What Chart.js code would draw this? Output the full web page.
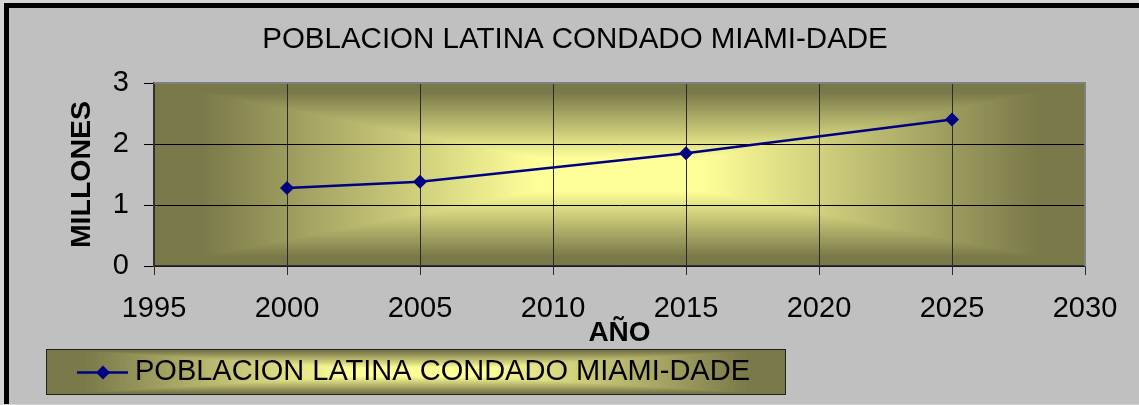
<!DOCTYPE html>
<html><head><meta charset="utf-8">
<script src="https://cdn.jsdelivr.net/npm/chart.js@4.4.1/dist/chart.umd.min.js"></script>
<style>html,body{margin:0;padding:0;background:#c0c0c0;overflow:hidden}#wrap{width:1139px;height:405px;position:relative}</style>
</head><body><div id="wrap"><canvas id="c" width="1139" height="405"></canvas></div>
<script>
const years = [2000, 2005, 2015, 2025];
const poblacion = [1.28, 1.38, 1.85, 2.40];
const xTicks = [1995, 2000, 2005, 2010, 2015, 2020, 2025, 2030];
const yTicks = [0, 1, 2, 3];
const chartTitle = 'POBLACION LATINA CONDADO MIAMI-DADE';
const seriesLabel = 'POBLACION LATINA CONDADO MIAMI-DADE';
const xTitle = 'AÑO';
const yTitle = 'MILLONES';

const FONT = "'Liberation Sans', Arial, sans-serif";
const NAVY = '#000080';
const C_CENTER = [255, 255, 153];
const C_EDGE = [122, 121, 74];

function shape(t) {
  const u = (t - 0.18) / 0.72;
  return Math.max(0, Math.min(1, u));
}
function fromCenterRect(ctx, x0, y0, x1, y1, steps) {
  const cx = (x0 + x1) / 2, cy = (y0 + y1) / 2, hw = (x1 - x0) / 2, hh = (y1 - y0) / 2;
  for (let i = steps; i >= 1; i--) {
    const t = i / steps;
    const f = shape(t);
    const c = C_CENTER.map((v, k) => Math.round(v + (C_EDGE[k] - v) * f));
    ctx.fillStyle = `rgb(${c[0]},${c[1]},${c[2]})`;
    ctx.fillRect(cx - hw * t, cy - hh * t, 2 * hw * t, 2 * hh * t);
  }
}

const decor = {
  id: 'decor',
  beforeDraw(chart) {
    const ctx = chart.ctx;
    const W = chart.width, H = chart.height;
    ctx.save();
    ctx.fillStyle = '#c0c0c0';
    ctx.fillRect(0, 0, W, H);
    ctx.fillStyle = '#d4d4d4';
    ctx.fillRect(0, 0, W, 3);
    ctx.fillRect(0, 0, 4, H);
    ctx.fillRect(0, H - 1, W, 1);
    ctx.fillStyle = '#000';
    ctx.fillRect(4, 3, W - 4, 5);
    ctx.fillRect(4, 3, 5, H - 4);
    const a = chart.chartArea;
    fromCenterRect(ctx, a.left, a.top, a.right, a.bottom, 200);
    ctx.restore();
  },
  beforeDatasetsDraw(chart) {
    const ctx = chart.ctx, a = chart.chartArea;
    ctx.save();
    ctx.strokeStyle = '#808080';
    ctx.lineWidth = 2;
    ctx.beginPath();
    ctx.moveTo(a.left, a.top);
    ctx.lineTo(a.right, a.top);
    ctx.lineTo(a.right, a.bottom);
    ctx.stroke();
    ctx.restore();
  },
  afterDraw(chart) {
    const ctx = chart.ctx;
    const ds = chart.data.datasets[0];
    const bx0 = 46, by0 = 349, bx1 = 786, by1 = 395;
    ctx.save();
    fromCenterRect(ctx, bx0, by0, bx1, by1, 120);
    ctx.strokeStyle = '#222';
    ctx.lineWidth = 1;
    ctx.strokeRect(bx0 + 0.5, by0 + 0.5, bx1 - bx0 - 1, by1 - by0 - 1);
    const ly = 372.5;
    ctx.strokeStyle = ds.borderColor;
    ctx.lineWidth = ds.borderWidth;
    ctx.beginPath();
    ctx.moveTo(77, ly);
    ctx.lineTo(128, ly);
    ctx.stroke();
    ctx.fillStyle = ds.pointBackgroundColor;
    const r = 7;
    ctx.beginPath();
    ctx.moveTo(103 - r, ly); ctx.lineTo(103, ly - r); ctx.lineTo(103 + r, ly); ctx.lineTo(103, ly + r);
    ctx.closePath();
    ctx.fill();
    ctx.fillStyle = '#000';
    ctx.font = '29px ' + FONT;
    ctx.textBaseline = 'middle';
    ctx.textAlign = 'left';
    ctx.fillText(ds.label, 135, 372);
    ctx.restore();
  }
};

Chart.defaults.color = '#000';
Chart.defaults.font.family = FONT;

new Chart(document.getElementById('c'), {
  type: 'line',
  data: {
    datasets: [{
      label: seriesLabel,
      data: years.map((y, i) => ({ x: y, y: poblacion[i] })),
      borderColor: NAVY,
      backgroundColor: NAVY,
      pointBackgroundColor: NAVY,
      pointBorderColor: NAVY,
      borderWidth: 2.5,
      pointStyle: 'rectRot',
      pointRadius: 7,
      pointBorderWidth: 0,
      tension: 0,
      fill: false
    }]
  },
  options: {
    responsive: false,
    animation: false,
    devicePixelRatio: 1,
    layout: { padding: { left: 65, right: 54, top: 0, bottom: 55 } },
    plugins: {
      legend: { display: false },
      tooltip: { enabled: false },
      title: {
        display: true,
        text: chartTitle,
        font: { family: FONT, size: 29.5, weight: 'normal' },
        color: '#000',
        padding: { top: 22, bottom: 25.6 }
      }
    },
    scales: {
      x: {
        type: 'linear',
        min: xTicks[0],
        max: xTicks[xTicks.length - 1],
        afterBuildTicks: s => { s.ticks = xTicks.map(v => ({ value: v })); },
        afterFit: s => { s.height = 84; },
        ticks: { font: { size: 29 }, color: '#000', padding: 17, maxRotation: 0, autoSkip: false, callback: v => String(v) },
        grid: { color: '#2a2a2a', lineWidth: 1, tickLength: 9, drawTicks: true },
        border: { display: true, color: '#333', width: 1.5 },
        title: { display: true, text: xTitle, font: { size: 28, weight: 'bold' }, color: '#000', padding: 0 }
      },
      y: {
        min: yTicks[0],
        max: yTicks[yTicks.length - 1],
        afterBuildTicks: s => { s.ticks = yTicks.map(v => ({ value: v })); },
        afterFit: s => { s.width = 89; },
        ticks: { font: { size: 29 }, color: '#000', padding: 15, callback: v => String(v) },
        grid: { color: '#000', lineWidth: 1, tickLength: 10, drawTicks: true },
        border: { display: true, color: '#333', width: 1.5 },
        title: { display: true, text: yTitle, font: { size: 28.5, weight: 'bold' }, color: '#000', padding: 0 }
      }
    }
  },
  plugins: [decor]
});
</script></body></html>
